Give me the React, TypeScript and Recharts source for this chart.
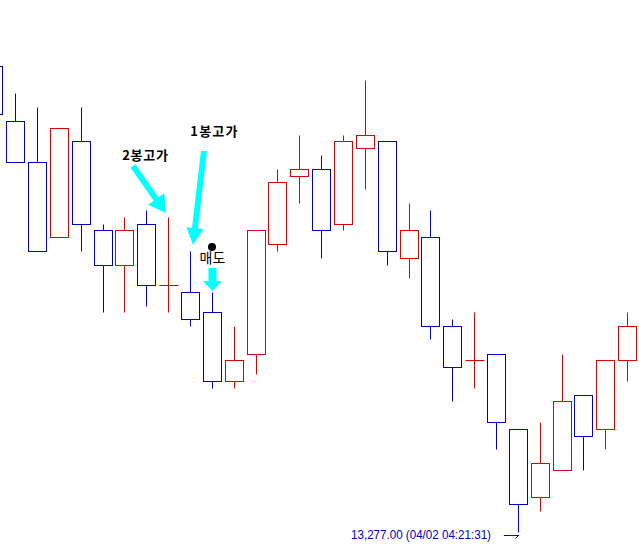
import { ComposedChart, Bar, XAxis, YAxis, ReferenceDot } from "recharts";

// candle index, OHLC (no axis shown, 1 pt per pixel)
const idx = [0, 1, 2, 3, 4, 5, 6, 7, 8, 9, 10, 11, 12, 13, 14, 15, 16, 17, 18, 19, 20, 21, 22, 23, 24, 25, 26, 27, 28, 29];
const opens = [13743, 13688, 13647, 13572, 13668, 13579, 13544, 13585, 13524, 13517, 13497, 13428, 13455, 13565, 13633, 13640, 13585, 13661, 13668, 13551, 13572, 13483, 13449, 13455, 13380, 13312, 13339, 13414, 13380, 13449];
const highs = [13743, 13716, 13702, 13681, 13702, 13585, 13592, 13599, 13592, 13558, 13517, 13483, 13579, 13640, 13674, 13654, 13674, 13729, 13668, 13606, 13599, 13490, 13497, 13455, 13380, 13387, 13455, 13414, 13449, 13497];
const lows = [13695, 13647, 13558, 13572, 13558, 13497, 13497, 13503, 13497, 13483, 13421, 13421, 13435, 13558, 13606, 13551, 13579, 13620, 13544, 13531, 13470, 13408, 13421, 13360, 13277, 13298, 13339, 13339, 13360, 13428];
const closes = [13695, 13647, 13558, 13681, 13585, 13544, 13579, 13524, 13524, 13490, 13428, 13449, 13579, 13627, 13640, 13579, 13668, 13674, 13558, 13579, 13483, 13442, 13449, 13387, 13305, 13346, 13408, 13373, 13449, 13483];

const priceDomain = [13258, 13809];
const lowLabel = "13,277.00 (04/02 04:21:31)";

const RED = "#DD0000";
const BLUE = "#0000CC";
const CYAN = "#00FFFF";

const data = idx.map((i) => ({ i, open: opens[i], high: highs[i], low: lows[i], close: closes[i] }));

const snap = (v: number) => Math.round(v) + 0.5;

function Candle(props: any) {
  const { x, y, width, height, payload } = props;
  const top = Math.min(y, y + height);
  const bot = Math.max(y, y + height);
  const { open, close, high, low } = payload;
  const span = high - low || 1;
  const py = (v: number) => top + ((high - v) / span) * (bot - top);
  const cx = snap(x + width / 2);
  const color = close >= open ? RED : BLUE;
  const yH = snap(py(high));
  const yL = snap(py(low));
  const bt = Math.min(snap(py(open)), snap(py(close)));
  const bb = Math.max(snap(py(open)), snap(py(close)));
  return (
    <g>
      <line x1={cx} x2={cx} y1={yH} y2={yL} stroke={color} strokeWidth={1} />
      {bb > bt ? (
        <rect x={cx - 9} y={bt} width={18} height={bb - bt} fill="#fff" stroke={color} strokeWidth={1} />
      ) : (
        <line x1={cx - 9} x2={cx + 10} y1={bt} y2={bt} stroke={color} strokeWidth={1} />
      )}
    </g>
  );
}

function arrow(x1: number, y1: number, x2: number, y2: number, sw: number, hl: number, hw: number) {
  const dx = x2 - x1, dy = y2 - y1;
  const L = Math.hypot(dx, dy);
  const ux = dx / L, uy = dy / L;
  const nx = -uy, ny = ux;
  const bx = x2 - ux * hl, by = y2 - uy * hl;
  const p = [
    [x1 + nx * sw / 2, y1 + ny * sw / 2],
    [bx + nx * sw / 2, by + ny * sw / 2],
    [bx + nx * hw / 2, by + ny * hw / 2],
    [x2, y2],
    [bx - nx * hw / 2, by - ny * hw / 2],
    [bx - nx * sw / 2, by - ny * sw / 2],
    [x1 - nx * sw / 2, y1 - ny * sw / 2],
  ];
  return <polygon points={p.map((q) => q.join(",")).join(" ")} fill={CYAN} />;
}

const KFONT = "'Noto Sans CJK KR', sans-serif";

function TwoBar(props: any) {
  const cx = snap(props.cx), cy = props.cy;
  return (
    <g>
      {arrow(cx - 35.5, cy - 51, cx - 2.5, cy - 4, 6, 17, 20)}
      <text x={cx - 23} y={cy - 57} textAnchor="middle" fontFamily={KFONT} fontWeight={700} fontSize={13} fill="#000" letterSpacing={0.8}>2봉고가</text>
    </g>
  );
}

function OneBar(props: any) {
  const cx = snap(props.cx), cy = props.cy;
  return (
    <g>
      {arrow(cx + 13.5, cy - 100, cx + 2.5, cy - 6, 6, 17, 17)}
      <text x={cx + 24} y={cy - 115} textAnchor="middle" fontFamily={KFONT} fontWeight={700} fontSize={13} fill="#000" letterSpacing={1.2}>1봉고가</text>
    </g>
  );
}

function Sell(props: any) {
  const cx = snap(props.cx), cy = props.cy;
  return (
    <g>
      <circle cx={cx - 0.5} cy={cy - 45} r={4} fill="#000" />
      <text x={cx} y={cy - 29} textAnchor="middle" fontFamily={KFONT} fontSize={14} fill="#000">매도</text>
      {arrow(cx, cy - 24, cx, cy - 1, 8, 10, 19)}
    </g>
  );
}

function LowMark(props: any) {
  const cx = snap(props.cx), cy = props.cy;
  return (
    <g>
      <text x={cx - 27.5} y={cy + 7} textAnchor="end" fontFamily="'Liberation Sans', Arial, sans-serif" fontSize={12} fill={BLUE} textLength={140} lengthAdjust="spacingAndGlyphs">{lowLabel}</text>
      <line x1={cx - 14.5} x2={cx + 0.5} y1={cy + 3.5} y2={cy + 3.5} stroke={BLUE} strokeWidth={1} />
      <line x1={cx} x2={cx - 3} y1={cy + 3.5} y2={cy + 6.5} stroke={BLUE} strokeWidth={1} />
    </g>
  );
}

export default function App() {
  return (
    <div style={{ position: "absolute", left: 0, top: 0, width: 639, height: 551, overflow: "hidden", background: "#fff" }}>
      <div style={{ position: "absolute", left: -18, top: 0 }}>
        <ComposedChart width={656} height={551} data={data} margin={{ top: 0, right: 0, bottom: 0, left: 0.21 }}>
          <XAxis dataKey="i" hide />
          <YAxis hide domain={priceDomain} allowDataOverflow />
          <Bar dataKey={(d: any) => [d.low, d.high]} barSize={18} shape={<Candle />} isAnimationActive={false} />
          <ReferenceDot x={8} y={highs[8]} r={0} ifOverflow="visible" shape={(p: any) => <TwoBar {...p} />} />
          <ReferenceDot x={9} y={highs[9]} r={0} ifOverflow="visible" shape={(p: any) => <OneBar {...p} />} />
          <ReferenceDot x={10} y={highs[10]} r={0} ifOverflow="visible" shape={(p: any) => <Sell {...p} />} />
          <ReferenceDot x={24} y={lows[24]} r={0} ifOverflow="visible" shape={(p: any) => <LowMark {...p} />} />
        </ComposedChart>
      </div>
    </div>
  );
}
